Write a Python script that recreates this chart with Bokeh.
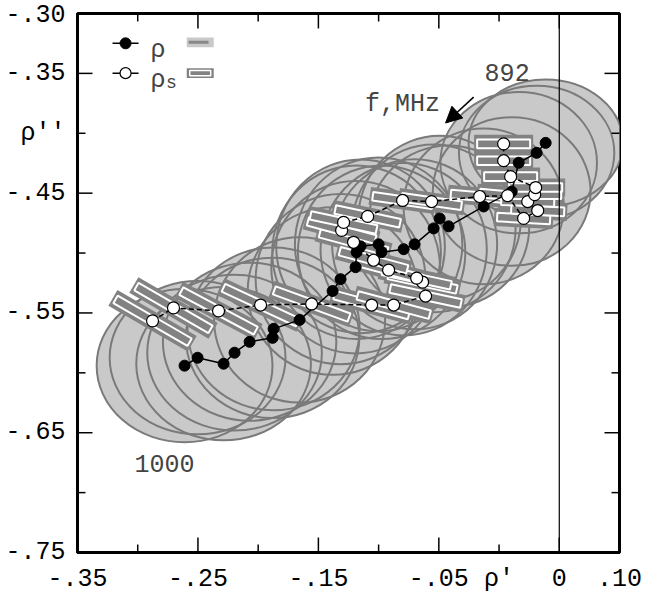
from bokeh.plotting import figure
from bokeh.models import (FixedTicker, LinearAxis, Range1d, Span, Label, Arrow,
                          NormalHead)
from bokeh.embed import file_html
from bokeh.resources import INLINE

# ---------------- data (listed from 1000 MHz to 892 MHz) -------------
rho_re = [-0.2611, -0.2503, -0.2287, -0.2196, -0.2071, -0.1880, -0.1872, -0.1656,
          -0.1382, -0.1316, -0.1191, -0.1183, -0.1150, -0.1000, -0.0975, -0.0792,
          -0.0701, -0.0543, -0.0493, -0.0419, -0.0128, 0.0105, 0.0163, 0.0312, 0.0387]
rho_im = [-0.5940, -0.5874, -0.5924, -0.5832, -0.5741, -0.5708, -0.5633, -0.5558,
          -0.5317, -0.5218, -0.5118, -0.4993, -0.4944, -0.4927, -0.4993, -0.4968,
          -0.4927, -0.4794, -0.4711, -0.4777, -0.4611, -0.4487, -0.4246, -0.4163, -0.4080]
# uncertainty region of rho (full width / height)
rho_err_w = [0.146, 0.146, 0.145, 0.145, 0.144, 0.144, 0.143, 0.142, 0.141, 0.141,
             0.140, 0.140, 0.140, 0.139, 0.139, 0.138, 0.137, 0.136, 0.135, 0.134,
             0.133, 0.131, 0.130, 0.129, 0.128]
rho_err_h = [0.128, 0.128, 0.128, 0.130, 0.132, 0.134, 0.136, 0.138, 0.140, 0.142,
             0.144, 0.145, 0.145, 0.145, 0.145, 0.144, 0.142, 0.140, 0.138, 0.135,
             0.130, 0.124, 0.118, 0.112, 0.106]

rhos_re = [-0.2877, -0.2703, -0.2329, -0.1980, -0.1556, -0.1058, -0.0875, -0.0610,
           -0.0635, -0.0684, -0.0917, -0.1042, -0.1208, -0.1307, -0.1291, -0.1091,
           -0.0801, -0.0560, -0.0161, 0.0071, 0.0204, 0.0321, 0.0238, 0.0296, 0.0304,
           0.0096, 0.0038, 0.0038]
rhos_im = [-0.5566, -0.5458, -0.5483, -0.5434, -0.5425, -0.5434, -0.5434, -0.5359,
           -0.5243, -0.5209, -0.5143, -0.5060, -0.4910, -0.4811, -0.4744, -0.4694,
           -0.4561, -0.4570, -0.4528, -0.4520, -0.4711, -0.4645, -0.4570, -0.4512,
           -0.4453, -0.4362, -0.4229, -0.4088]
# uncertainty box of rho_s (length and tilt in degrees)
rhos_err_len = [0.071, 0.071, 0.070, 0.068, 0.066, 0.064, 0.062, 0.060, 0.058, 0.058,
                0.058, 0.058, 0.058, 0.058, 0.056, 0.055, 0.050, 0.050, 0.048, 0.046,
                0.044, 0.044, 0.044, 0.044, 0.044, 0.044, 0.044, 0.044]
rhos_err_ang = [-30, -30, -28, -25, -20, -15, -15, -12, -12, -12, -15, -15, -15, -15,
                -12, -12, -8, -8, -5, -5, -3, -3, -2, 0, 0, 0, 0, 0]
rhos_err_thk = 0.0072

# axis ticks and labels
x_major = [-0.35, -0.25, -0.15, -0.05, 0.05, 0.10]
x_minor = [-0.30, -0.20, -0.10, 0.0]
x_labels = {-0.35: "-.35", -0.25: "-.25", -0.15: "-.15", -0.05: "-.05", 0.0: "ρ'",
            0.05: "0", 0.10: ".10"}
y_major = [-0.75, -0.65, -0.55, -0.45, -0.35, -0.30]
y_minor = [-0.70, -0.60, -0.50, -0.40]
y_labels = {-0.30: "-.30", -0.35: "-.35", -0.40: "ρ''", -0.45: "-.45", -0.55: "-.55",
            -0.65: "-.65", -0.75: "-.75"}

FONT = "Liberation Mono"
FS = "25px"
LIGHT = "#c9c9c9"
EDGE = "#7a7a7a"
DARK = "#828282"
X0, X1, Y0, Y1 = -0.35, 0.10, -0.75, -0.30
PX = 1 / 1204.0          # one screen pixel in data units
LMAJ, LMIN = 15, 8       # tick lengths in pixels

p = figure(width=644, height=596, x_range=Range1d(X0, X1), y_range=Range1d(Y0, Y1),
           output_backend="svg", toolbar_location=None,
           x_axis_location=None, y_axis_location=None,
           min_border_left=77, min_border_right=25, min_border_top=13, min_border_bottom=41)
p.xgrid.visible = False
p.ygrid.visible = False
p.outline_line_color = "black"
p.outline_line_width = 3
p.background_fill_color = "white"
p.border_fill_color = "white"

bottom = LinearAxis(ticker=FixedTicker(ticks=sorted(x_labels.keys()), minor_ticks=[]),
                    major_label_overrides=x_labels)
left = LinearAxis(ticker=FixedTicker(ticks=sorted(y_labels.keys()), minor_ticks=[]),
                  major_label_overrides=y_labels)
p.add_layout(bottom, "below")
p.add_layout(left, "left")
for ax in (bottom, left):
    ax.major_tick_in = 0
    ax.major_tick_out = 0
    ax.minor_tick_in = 0
    ax.minor_tick_out = 0
    ax.axis_line_color = "black"
    ax.axis_line_width = 3
    ax.major_label_text_font = FONT
    ax.major_label_text_color = "black"
    ax.major_label_text_font_size = FS
    ax.major_label_standoff = 12

# inward ticks on all four sides, as thin screen-sized bars centred inside the frame
vx, vy, vh, hx, hy, hw = [], [], [], [], [], []
for ticks, ln in ((x_major, LMAJ), (x_minor, LMIN)):
    for t in ticks:
        vx += [t, t]
        vy += [Y0 + ln / 2 * PX, Y1 - ln / 2 * PX]
        vh += [ln, ln]
for ticks, ln in ((y_major, LMAJ), (y_minor, LMIN)):
    for t in ticks:
        hy += [t, t]
        hx += [X0 + ln / 2 * PX, X1 - ln / 2 * PX]
        hw += [ln, ln]
p.rect(x=vx, y=vy, width=1.5, height=vh, width_units="screen", height_units="screen",
       fill_color="black", line_color=None, level="overlay")
p.rect(x=hx, y=hy, width=hw, height=1.5, width_units="screen", height_units="screen",
       fill_color="black", line_color=None, level="overlay")

# uncertainty regions of rho
p.ellipse(rho_re, rho_im, width=rho_err_w, height=rho_err_h, fill_color=LIGHT, line_color=None)
p.ellipse(rho_re, rho_im, width=rho_err_w, height=rho_err_h, fill_color=None,
          line_color=EDGE, line_width=2)

# uncertainty boxes of rho_s
outer_len = [v + 0.005 for v in rhos_err_len]
p.rect(rhos_re, rhos_im, width=outer_len, height=rhos_err_thk * 2.1, angle=rhos_err_ang,
       angle_units="deg", fill_color=DARK, line_color=None)
p.rect(rhos_re, rhos_im, width=rhos_err_len, height=rhos_err_thk, angle=rhos_err_ang,
       angle_units="deg", fill_color=DARK, line_color="white", line_width=2)

p.add_layout(Span(location=0.05, dimension="height", line_color="black", line_width=1.2))

# curves
p.line(rhos_re, rhos_im, line_color="black", line_width=1.5, line_dash="5 3")
p.line(rho_re, rho_im, line_color="black", line_width=1.5)
p.scatter(rho_re, rho_im, marker="circle", size=11, fill_color="black", line_color="black")
p.scatter(rhos_re, rhos_im, marker="circle", size=12, fill_color="white", line_color="black",
          line_width=1.2)

# annotations
p.add_layout(Label(x=0.0067, y=-0.3494, text="892", text_align="center",
                   text_baseline="middle", text_font=FONT, text_font_size=FS))
p.add_layout(Label(x=-0.2777, y=-0.6754, text="1000", text_align="center",
                   text_baseline="middle", text_font=FONT, text_font_size=FS))
p.add_layout(Label(x=-0.0801, y=-0.3756, text="f,MHz", text_align="center",
                   text_baseline="middle", text_font=FONT, text_font_size=FS))
p.add_layout(Arrow(end=NormalHead(size=16, fill_color="black", line_color="black"),
                   x_start=-0.0211, y_start=-0.3698, x_end=-0.0444, y_end=-0.3914,
                   line_color="black", line_width=1.5))

# legend (drawn by hand)
leg_rows = [-0.3249, -0.3498]
p.line([-0.3209, -0.2993], [leg_rows[0], leg_rows[0]], line_color="black", line_width=1.5)
p.line([-0.3209, -0.2993], [leg_rows[1], leg_rows[1]], line_color="black", line_width=1.5)
p.scatter([-0.3101], [leg_rows[0]], marker="circle", size=11, fill_color="black", line_color="black")
p.scatter([-0.3101], [leg_rows[1]], marker="circle", size=11, fill_color="white", line_color="black",
          line_width=1.2)
p.add_layout(Label(x=-0.2893, y=-0.3307, text="ρ", text_align="left", text_baseline="alphabetic",
                   text_font=FONT, text_font_size=FS))
p.add_layout(Label(x=-0.2893, y=-0.3556, text="ρ", text_align="left", text_baseline="alphabetic",
                   text_font=FONT, text_font_size=FS))
p.add_layout(Label(x=-0.2765, y=-0.3581, text="s", text_align="left", text_baseline="alphabetic",
                   text_font=FONT, text_font_size="18px"))
p.rect([-0.2481], [leg_rows[0] + 0.0008], width=0.0224, height=0.0083, fill_color=LIGHT, line_color=None)
p.line([-0.2578, -0.2412], [leg_rows[0] + 0.0008] * 2, line_color="#888888", line_width=3)
p.rect([-0.2481], [leg_rows[1]], width=0.0224, height=0.0083, fill_color=DARK, line_color=None)
p.rect([-0.2481], [leg_rows[1]], width=0.0174, height=0.0045, fill_color=DARK, line_color="white",
       line_width=1.5)

open("out.html", "w").write(file_html(p, INLINE))
